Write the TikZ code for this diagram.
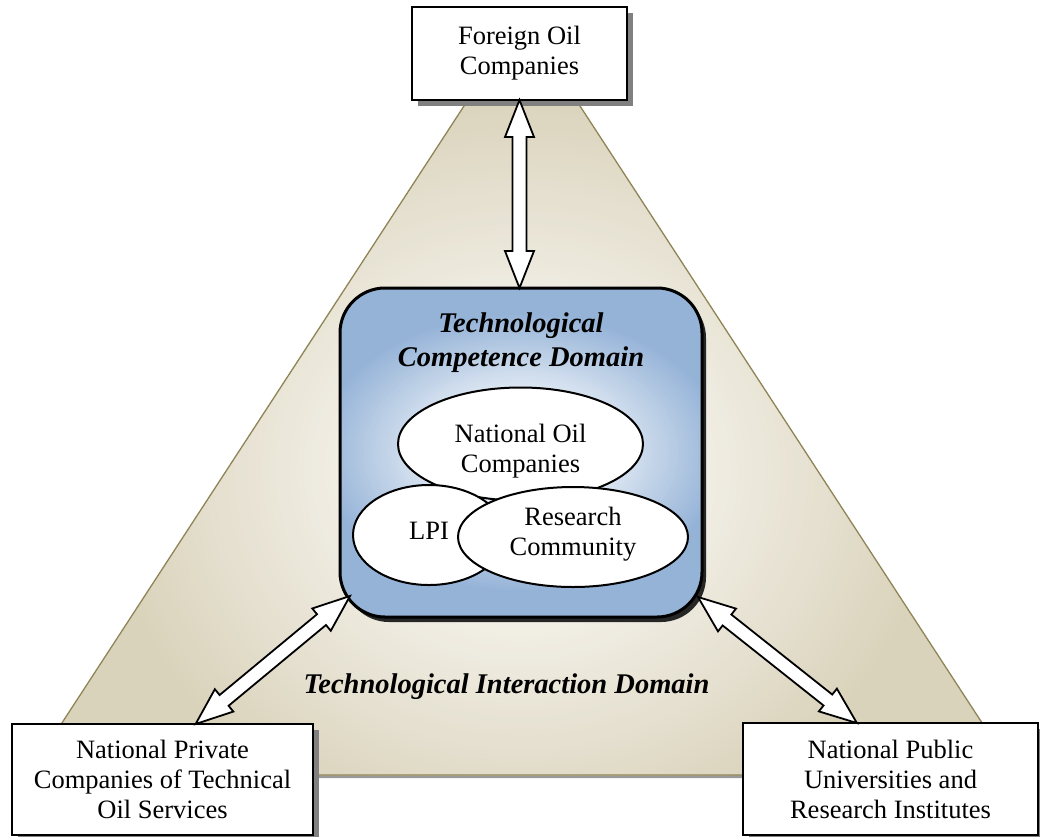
\documentclass[tikz,border=0pt]{standalone}
\usepackage{fontspec}
\setmainfont{Liberation Serif}
\usetikzlibrary{calc,shapes.geometric,shadows}

\definecolor{tribeige}{HTML}{DAD3BC}
\definecolor{trilight}{HTML}{F6F4EE}
\definecolor{triedge}{HTML}{8F8557}
\definecolor{coreblue}{HTML}{95B3D7}

% soft elliptic glow drawn as stacked ellipses:
% #1 centre, #2 x radius, #3 y radius, #4 inner colour, #5 outer colour, #6 flat core fraction
\newcommand\ellipseglow[6]{%
  \foreach \k in {0,...,59} {%
    \pgfmathsetmacro\f{1-\k/60}%
    \pgfmathsetmacro\p{min(100,100*(1-\f)/(1-#6))}%
    \fill[#4!\p!#5] #1 ellipse [x radius=\f*#2, y radius=\f*#3];
  }}

\tikzset{
  bodytext/.style={font=\fontsize{26.5pt}{30pt}\selectfont, align=center, inner sep=0pt},
  titletext/.style={font=\fontsize{28.5pt}{34pt}\selectfont\bfseries\itshape, align=center, inner sep=0pt},
  orgbox/.style={bodytext, draw, line width=2pt, fill=white, outer sep=0pt,
    drop shadow={shadow xshift=6pt, shadow yshift=-6pt, fill=black!50, opacity=1}},
  interaction/.style={draw=triedge, line width=1.3pt, fill=tribeige,
    path picture={\ellipseglow{(521,470)}{420pt}{380pt}{trilight}{tribeige}{0.3}},
    drop shadow={shadow xshift=2pt, shadow yshift=-3pt, fill=black!40, opacity=1}},
  competence/.style={draw, line width=3pt, rounded corners=45pt, fill=coreblue,
    path picture={\begin{scope}[shift={($(path picture bounding box.center)+(14,-60)$)}]
      \ellipseglow{(0,0)}{205pt}{140pt}{white}{coreblue}{0.22}\end{scope}},
    outer sep=0pt, inner sep=0pt, minimum width=362pt, minimum height=329pt,
    drop shadow={shadow xshift=4pt, shadow yshift=-5pt, fill=black!85, opacity=1}},
  actor/.style={ellipse, draw, line width=2pt, fill=white, inner sep=0pt, outer sep=0pt},
  actorlabel/.style={bodytext},
  blockarrow/.style={draw, line width=1.8pt, fill=white, line join=miter},
}

% two-headed block arrow between two points
\newcommand\blocklink[2]{%
  \path (#1) coordinate (bl-a) (#2) coordinate (bl-b);
  \coordinate (bl-ha) at ($(bl-a)!37pt!(bl-b)$);
  \coordinate (bl-hb) at ($(bl-b)!37pt!(bl-a)$);
  \draw[blockarrow] (bl-a)
    -- ($(bl-ha)!14.5pt!90:(bl-b)$) -- ($(bl-ha)!7pt!90:(bl-b)$)
    -- ($(bl-hb)!7pt!-90:(bl-a)$) -- ($(bl-hb)!14.5pt!-90:(bl-a)$)
    -- (bl-b)
    -- ($(bl-hb)!14.5pt!90:(bl-a)$) -- ($(bl-hb)!7pt!90:(bl-a)$)
    -- ($(bl-ha)!7pt!-90:(bl-b)$) -- ($(bl-ha)!14.5pt!-90:(bl-b)$)
    -- cycle;}

\begin{document}
\begin{tikzpicture}[x=1pt, y=-1pt]
\useasboundingbox (0,0) rectangle (1040,836);

% interaction domain
\draw[interaction] (522,17) -- (28,775) -- (1016,775) -- cycle;

% competence domain
\node[competence,
  label={[titletext, anchor=north, yshift=-25pt]north:Technological\\Competence Domain}]
  (core) at (521,452.5) {};

\node[actor, minimum width=245pt, minimum height=113pt,
  label={[actorlabel, yshift=-7pt]center:National Oil\\Companies}] (noc) at (520.5,444) {};
\node[actor, minimum width=152pt, minimum height=100pt,
  label={[actorlabel, yshift=3.75pt]center:LPI}] (lpi) at (429,535) {};
\node[actor, minimum width=230pt, minimum height=100pt,
  label={[actorlabel, yshift=3pt]center:Research\\Community}] (rc) at (573,537) {};

% outside actors
\node[orgbox, minimum width=215pt, minimum height=93pt] (foreign) at (519.5,53.5)
  {Foreign Oil\\Companies};
\node[orgbox, minimum width=301pt, minimum height=111pt] (private) at (162.5,779.5)
  {National Private\\Companies of Technical\\Oil Services};
\node[orgbox, minimum width=295pt, minimum height=112pt] (public) at (890.5,779)
  {National Public\\Universities and\\Research Institutes};

\node[titletext, anchor=base] (tid) at (506.5,693) {Technological Interaction Domain};

% links
\coordinate (privTip) at ($(private.north west)!0.61!(private.north east)$);
\coordinate (pubTip) at ($(public.north west)!0.386!(public.north east)$);
\coordinate (coreSW) at ($(core.south west)+(10,-21)$);
\coordinate (coreSE) at ($(core.south east)+(-4,-20)$);
\coordinate (coreN) at (foreign.south |- core.north);

\blocklink{foreign.south}{coreN}
\blocklink{privTip}{coreSW}
\blocklink{pubTip}{coreSE}
\end{tikzpicture}
\end{document}
